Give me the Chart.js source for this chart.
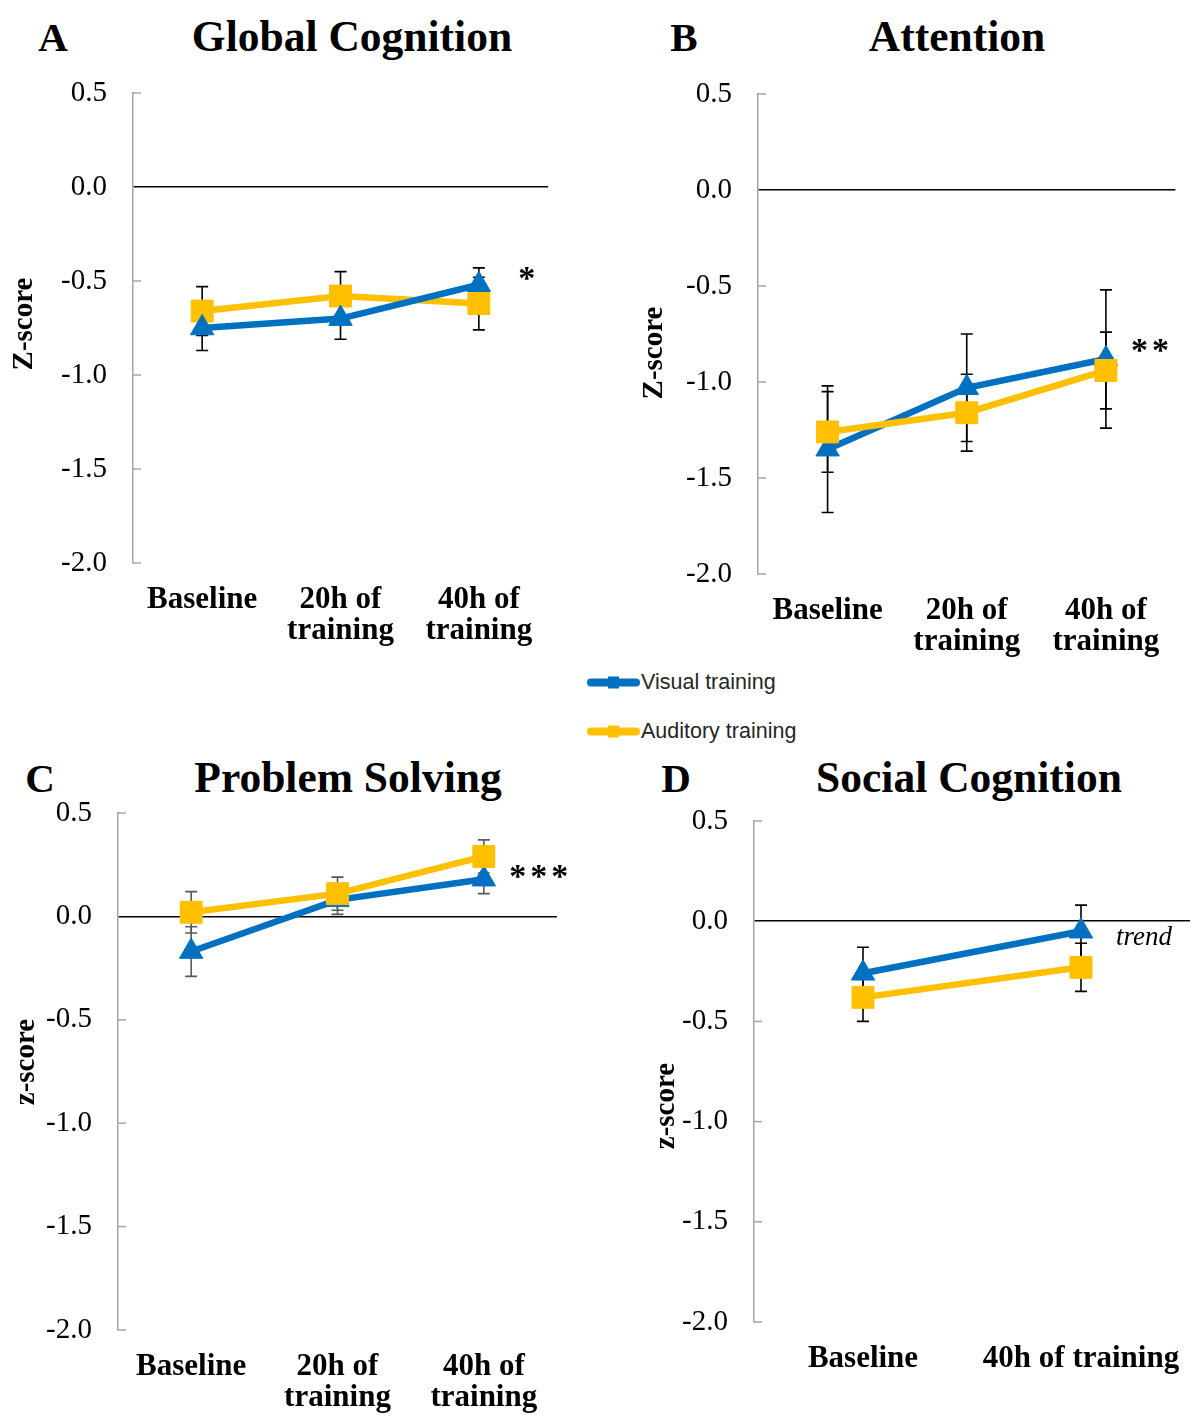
<!DOCTYPE html>
<html>
<head>
<meta charset="utf-8">
<title>Cognitive training z-scores</title>
<script src="https://cdn.jsdelivr.net/npm/chart.js@4.4.1/dist/chart.umd.min.js"></script>
<style>
    body { margin: 0; background: #fff; overflow: hidden; }
    #page { position: relative; width: 1192px; height: 1427px; overflow: hidden; font-family: "Liberation Serif", serif; color: #000; }
    canvas { position: absolute; }
    .head { position: absolute; font-weight: bold; font-size: 43.5px; line-height: 1; transform: translate(-50%, -50%); white-space: nowrap; }
    .letter { font-size: 41px; }
    .legend { position: absolute; left: 587px; font-family: "Liberation Sans", sans-serif; font-size: 21.5px; color: #262626; transform: translateY(-50%); white-space: nowrap; }
    .legend .swatch { display: inline-block; position: relative; width: 53px; height: 8px; border-radius: 4px; vertical-align: middle; margin-right: 1px; }
    .legend .swatch i { position: absolute; left: 21px; top: -2px; width: 11px; height: 12px; background: inherit; }
</style>
</head>
<body>
<div id="page">
    <div class="head letter" style="left:53px;top:37px">A</div>
    <div class="head" style="left:352px;top:37px">Global Cognition</div>
    <div class="head letter" style="left:684px;top:37px">B</div>
    <div class="head" style="left:957px;top:37px">Attention</div>
    <div class="head letter" style="left:40px;top:778px">C</div>
    <div class="head" style="left:348px;top:778px">Problem Solving</div>
    <div class="head letter" style="left:676px;top:778px">D</div>
    <div class="head" style="left:969px;top:778px">Social Cognition</div>

    <div class="legend" style="top:682px"><span class="swatch" style="background:#0070C0"><i></i></span>Visual training</div>
    <div class="legend" style="top:731px"><span class="swatch" style="background:#FFC000"><i></i></span>Auditory training</div>

    <canvas id="globalChart" width="568" height="590" style="left:0px;top:60px"></canvas>
    <canvas id="attentionChart" width="592" height="600" style="left:600px;top:60px"></canvas>
    <canvas id="problemChart" width="580" height="637" style="left:0px;top:790px"></canvas>
    <canvas id="socialChart" width="612" height="637" style="left:600px;top:790px"></canvas>
</div>

<script>
"use strict";

// categories
const threeSessions = [['Baseline'], ['20h of', 'training'], ['40h of', 'training']];
const twoSessions = ['Baseline', '40h of training'];
const yTicks = [0.5, 0.0, -0.5, -1.0, -1.5, -2.0];

// global cognition
const globalVisual = [-0.75, -0.70, -0.52];
const globalVisualErr = [0.12, 0.11, 0.09];
const globalAuditory = [-0.66, -0.58, -0.62];
const globalAuditoryErr = [0.13, 0.13, 0.14];

// attention
const attentionVisual = [-1.35, -1.03, -0.88];
const attentionVisualErr = [0.33, 0.28, 0.36];
const attentionAuditory = [-1.26, -1.16, -0.94];
const attentionAuditoryErr = [0.21, 0.20, 0.20];

// problem solving
const problemVisual = [-0.17, 0.08, 0.18];
const problemVisualErr = [0.12, 0.07, 0.07];
const problemAuditory = [0.02, 0.11, 0.29];
const problemAuditoryErr = [0.10, 0.08, 0.08];

// social cognition
const socialVisual = [-0.26, -0.05];
const socialVisualErr = [0.13, 0.13];
const socialAuditory = [-0.38, -0.23];
const socialAuditoryErr = [0.12, 0.12];

// significance marks next to the last session
const sigText = ['*', '**', '***', 'trend'];
const sigValue = [-0.47, -0.82, 0.21, -0.085];

const BLUE = '#0070C0';
const YELLOW = '#FFC000';
const SERIF = '"Liberation Serif", serif';

// error bars, drawn under the lines
const errorBars = {
    id: 'errorBars',
    beforeDatasetsDraw(chart, args, opts) {
        const {ctx, scales: {x, y}} = chart;
        ctx.save();
        ctx.strokeStyle = opts.color;
        ctx.lineWidth = 1.6;
        chart.data.datasets.forEach((ds) => {
            ds.errors.forEach((e, j) => {
                let px = x.getPixelForValue(j);
                let top = y.getPixelForValue(ds.data[j] + e);
                let bot = y.getPixelForValue(ds.data[j] - e);
                ctx.beginPath();
                ctx.moveTo(px, top);
                ctx.lineTo(px, bot);
                ctx.moveTo(px - 6, top);
                ctx.lineTo(px + 6, top);
                ctx.moveTo(px - 6, bot);
                ctx.lineTo(px + 6, bot);
                ctx.stroke();
            });
        });
        ctx.restore();
    }
};

// small tick marks inside the plot, y title and significance text
const panelDecor = {
    id: 'panelDecor',
    afterDraw(chart, args, opts) {
        const {ctx, chartArea, scales: {x, y}} = chart;
        ctx.save();

        // inner ticks (the zero line already covers 0)
        ctx.strokeStyle = '#a6a6a6';
        ctx.lineWidth = 1.5;
        y.ticks.forEach((t) => {
            if (t.value === 0) return;
            let py = y.getPixelForValue(t.value);
            ctx.beginPath();
            ctx.moveTo(chartArea.left, py);
            ctx.lineTo(chartArea.left + 8, py);
            ctx.stroke();
        });

        // y title
        ctx.fillStyle = '#000';
        ctx.font = `bold 29px ${SERIF}`;
        ctx.textAlign = 'center';
        ctx.textBaseline = 'middle';
        ctx.translate(opts.titleX, opts.titleY);
        ctx.rotate(-Math.PI / 2);
        ctx.fillText(opts.title, 0, 0);
        ctx.restore();

        // significance
        ctx.save();
        let last = chart.data.labels.length - 1;
        ctx.fillStyle = '#000';
        ctx.font = opts.sigItalic ? `italic 27px ${SERIF}` : `bold 34px ${SERIF}`;
        ctx.letterSpacing = opts.sigItalic ? '0px' : '4px';
        ctx.textAlign = 'center';
        ctx.textBaseline = 'middle';
        ctx.fillText(opts.sig, x.getPixelForValue(last) + opts.sigDx, y.getPixelForValue(opts.sigY) + opts.sigShift);
        ctx.restore();
    }
};

const makePanel = (canvasId, p) => {
    let visual = {
        label: 'Visual training',
        data: p.visual,
        errors: p.visualErr,
        borderColor: BLUE,
        backgroundColor: BLUE,
        borderWidth: 6.5,
        pointStyle: 'triangle',
        pointRadius: 13.5,
        pointBorderWidth: 1,
        order: p.blueOnTop ? 0 : 1
    };
    let auditory = {
        label: 'Auditory training',
        data: p.auditory,
        errors: p.auditoryErr,
        borderColor: YELLOW,
        backgroundColor: YELLOW,
        borderWidth: 6.5,
        pointStyle: 'rect',
        pointRadius: 15.5,
        pointBorderWidth: 1,
        order: p.blueOnTop ? 1 : 0
    };

    let config = {
        type: 'line',
        data: {
            labels: p.labels,
            datasets: [visual, auditory]
        },
        options: {
            responsive: false,
            animation: false,
            layout: { padding: { top: p.padTop, right: p.padRight, left: 0, bottom: 0 } },
            plugins: {
                legend: { display: false },
                tooltip: { enabled: false },
                errorBars: { color: p.errColor },
                panelDecor: {
                    title: p.title, titleX: p.titleX, titleY: p.titleY,
                    sig: p.sig, sigY: p.sigY, sigDx: p.sigDx, sigShift: p.sigShift, sigItalic: p.sigItalic
                }
            },
            scales: {
                x: {
                    type: 'category',
                    offset: true,
                    grid: { display: false },
                    border: { display: false },
                    ticks: {
                        color: '#000',
                        font: { family: SERIF, size: 31, weight: 'bold', lineHeight: 1.0 },
                        padding: 13,
                        maxRotation: 0,
                        autoSkip: false
                    },
                    afterFit: (s) => {
                        s.height = p.xHeight;
                        s.paddingLeft = 0;
                        s.paddingRight = 0;
                    }
                },
                y: {
                    min: yTicks[yTicks.length - 1],
                    max: yTicks[0],
                    afterBuildTicks: (s) => { s.ticks = yTicks.map((v) => ({ value: v })); },
                    ticks: {
                        color: '#000',
                        font: { family: SERIF, size: 29 },
                        padding: 26,
                        callback: (v) => Number(v).toFixed(1)
                    },
                    grid: {
                        drawTicks: false,
                        lineWidth: 1.5,
                        color: (c) => (c.tick && c.tick.value === 0) ? '#000' : 'rgba(0,0,0,0)'
                    },
                    border: { color: '#a6a6a6', width: 1.5 },
                    afterFit: (s) => {
                        s.width = p.yWidth;
                        s.paddingTop = 0;
                        s.paddingBottom = 0;
                    }
                }
            }
        },
        plugins: [errorBars, panelDecor]
    };

    return new Chart(document.getElementById(canvasId), config);
};

// A
makePanel('globalChart', {
    labels: threeSessions,
    visual: globalVisual, visualErr: globalVisualErr,
    auditory: globalAuditory, auditoryErr: globalAuditoryErr,
    blueOnTop: true, errColor: '#000',
    padTop: 33, padRight: 20, yWidth: 133, xHeight: 87,
    title: 'Z-score', titleX: 25, titleY: 264,
    sig: sigText[0], sigY: sigValue[0], sigDx: 50, sigShift: 5, sigItalic: false
});

// B
makePanel('attentionChart', {
    labels: threeSessions,
    visual: attentionVisual, visualErr: attentionVisualErr,
    auditory: attentionAuditory, auditoryErr: attentionAuditoryErr,
    blueOnTop: false, errColor: '#000',
    padTop: 34, padRight: 16, yWidth: 158, xHeight: 86,
    title: 'Z-score', titleX: 55, titleY: 293,
    sig: sigText[1], sigY: sigValue[1], sigDx: 46, sigShift: 5, sigItalic: false
});

// C
makePanel('problemChart', {
    labels: threeSessions,
    visual: problemVisual, visualErr: problemVisualErr,
    auditory: problemAuditory, auditoryErr: problemAuditoryErr,
    blueOnTop: false, errColor: '#595959',
    padTop: 23, padRight: 23, yWidth: 118, xHeight: 97,
    title: 'z-score', titleX: 27, titleY: 272,
    sig: sigText[2], sigY: sigValue[2], sigDx: 57, sigShift: 5, sigItalic: false
});

// D
makePanel('socialChart', {
    labels: twoSessions,
    visual: socialVisual, visualErr: socialVisualErr,
    auditory: socialAuditory, auditoryErr: socialAuditoryErr,
    blueOnTop: false, errColor: '#000',
    padTop: 31, padRight: 22, yWidth: 154, xHeight: 105,
    title: 'z-score', titleX: 67, titleY: 316,
    sig: sigText[3], sigY: sigValue[3], sigDx: 63, sigShift: 0, sigItalic: true
});
</script>
</body>
</html>
